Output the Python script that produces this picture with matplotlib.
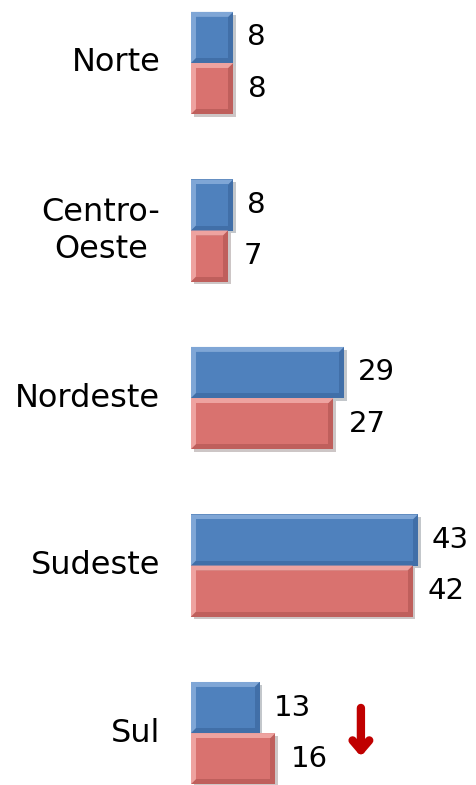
import numpy as np
import matplotlib.pyplot as plt
import matplotlib.patheffects as pe
from matplotlib.patches import Polygon, Rectangle

# regions and the two series (blue on top, red below)
regions = ['Norte', 'Centro-\nOeste', 'Nordeste', 'Sudeste', 'Sul']
blue_vals = [8, 8, 29, 43, 13]
red_vals = [8, 7, 27, 42, 16]

# colours: face, light bevel, dark bevel
blue = ('#4F81BD', '#7FA6D6', '#416FA8')
red = ('#D9726F', '#EEA3A0', '#BF5F5C')

fig = plt.figure(figsize=(4.77, 7.85), dpi=100)
ax = fig.add_axes([0.4004, 0.0, 0.5996, 1.0])
xmax, ylo, yhi = 54.2, 4.31, -0.376
ax.set_xlim(0, xmax)
ax.set_ylim(ylo, yhi)
ax.axis('off')

# pixel -> data units (axes is fixed in pixels)
px_x = xmax / (0.5996 * 477)
px_y = (ylo - yhi) / 785.0

y = np.arange(len(regions))
h = 0.305
shadow = [pe.SimplePatchShadow(offset=(2, -2), alpha=0.25), pe.Normal()]


def bevel_bar(v, yc, cols, inset=5):
    face, light, dark = cols
    x0, x1 = 0, v
    y0, y1 = yc - h / 2, yc + h / 2  # y0 is top (inverted axis)
    dx, dy = inset * px_x, inset * px_y
    base = Rectangle((x0, y0), v, h, facecolor=dark, edgecolor='none')
    base.set_path_effects(shadow)
    ax.add_patch(base)
    # light band on top and left
    ax.add_patch(Polygon([(x0, y1), (x0, y0), (x1, y0), (x1 - dx, y0 + dy),
                          (x0 + dx, y0 + dy), (x0 + dx, y1 - dy)],
                         closed=True, facecolor=light, edgecolor='none'))
    ax.add_patch(Rectangle((x0 + dx, y0 + dy), v - 2 * dx, h - 2 * dy,
                           facecolor=face, edgecolor='none'))


for yy, v in zip(y - h / 2, blue_vals):
    bevel_bar(v, yy, blue)
    ax.annotate(str(v), (v, yy), xytext=(10, 0), textcoords='offset points',
                va='center', ha='left', fontsize=21, color='black')
for yy, v in zip(y + h / 2, red_vals):
    bevel_bar(v, yy, red)
    ax.annotate(str(v), (v, yy), xytext=(11, 0), textcoords='offset points',
                va='center', ha='left', fontsize=21, color='black')

# category labels on the left
for yy, name in zip(y, regions):
    ax.annotate(name, (0, yy), xytext=(-22, 0), textcoords='offset points',
                va='center', ha='right', multialignment='center',
                fontsize=23, color='black', annotation_clip=False,
                linespacing=1.25)

# red down arrow next to Sul
ax.annotate('', xy=(32.2, 4.14), xytext=(32.2, 3.85), annotation_clip=False,
            arrowprops=dict(arrowstyle='->,head_length=0.7,head_width=0.6',
                            color='#C00000', lw=6, shrinkA=0, shrinkB=0))

fig.savefig('out.png', dpi=100)
